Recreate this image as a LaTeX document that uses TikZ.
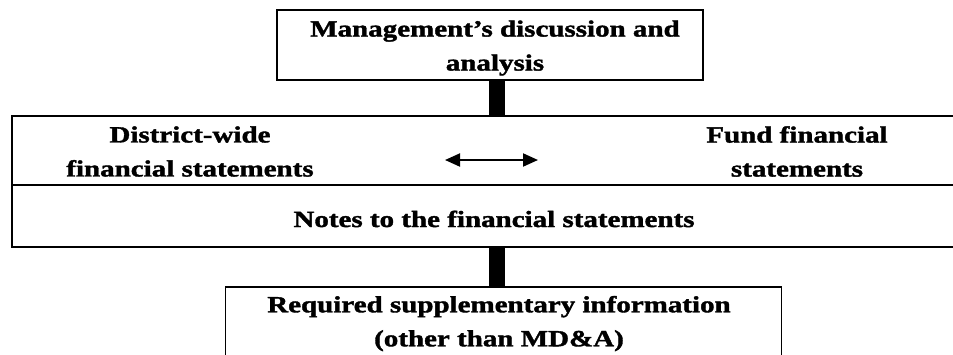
\documentclass[tikz,border=0pt]{standalone}
\usepackage{fontspec}
\setmainfont{Liberation Serif}[FakeStretch=1.25, FakeBold=1.6]
\usetikzlibrary{arrows.meta}
\tikzset{
  box/.style={draw, line width=1.2pt, inner sep=0pt},
  caption/.style={inner sep=0pt, align=center},
  spine/.style={line width=16.5pt},
}
\begin{document}
\begin{tikzpicture}[x=1pt, y=-1pt, font=\fontsize{23.2}{34}\selectfont\bfseries]
  \useasboundingbox (0,0) rectangle (953,354);
  \coordinate (axis) at (497,0);
  % boxes
  \node[box, minimum width=426pt, minimum height=70pt] (mda) at (490,45) {};
  \node[box, minimum width=964pt, minimum height=69pt] (statements) at (494,150.5) {};
  \node[box, minimum width=964pt, minimum height=62pt] (notes) at (494,216) {};
  \node[box, minimum width=556pt, minimum height=74pt] (rsi) at (503.5,324) {};
  % texts
  \node[caption] (mdatext) at (495,48) {Management's discussion and\\analysis};
  \node[caption] (gwtext) at (190,151.5) {District-wide\\financial statements};
  \node[caption] (fundtext) at (797,151.5) {Fund financial\\statements};
  \node[caption, anchor=base] (notestext) at (494,227) {Notes to the financial statements};
  \node[caption] (rsitext) at (499,323.6) {Required supplementary information\\(other than MD\&A)};
  % links
  \draw[spine] (mda.south -| axis) -- (statements.north -| axis);
  \draw[spine] (notes.south -| axis) -- (rsi.north -| axis);
  \coordinate (arrleft) at (445,160);
  \coordinate (arrright) at (538,160);
  \draw[line width=2pt, {Triangle[length=15pt,width=13pt]}-{Triangle[length=15pt,width=13pt]}] (arrleft) -- (arrright);
\end{tikzpicture}
\end{document}
